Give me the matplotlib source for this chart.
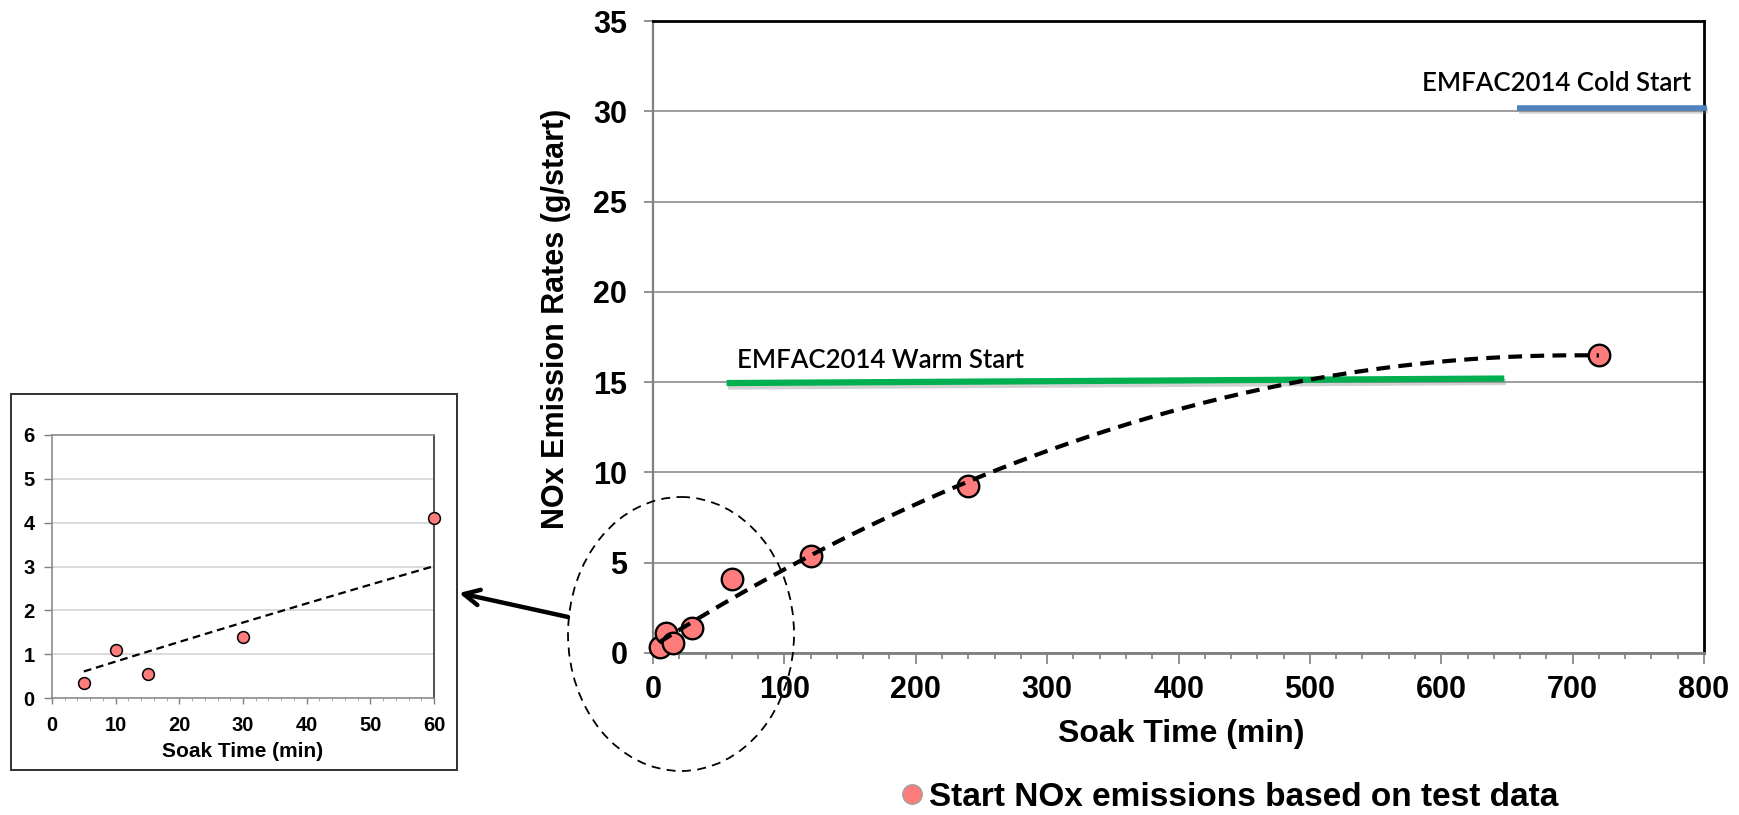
import numpy as np
import matplotlib
matplotlib.use("Agg")
import matplotlib.pyplot as plt
from matplotlib.patches import Ellipse, Rectangle
from matplotlib.lines import Line2D
import matplotlib.patheffects as pe

# ---------------------------------------------------------------------------
# Data
# ---------------------------------------------------------------------------
soak_min = [5, 10, 15, 30, 60, 120, 240, 720]
nox_g = [0.35, 1.1, 0.55, 1.4, 4.1, 5.35, 9.25, 16.5]

warm_x = [56, 648]
warm_y = [14.95, 15.2]
cold_x = [658, 802]
cold_y = [30.2, 30.2]

main_xticks = [0, 100, 200, 300, 400, 500, 600, 700, 800]
main_yticks = [0, 5, 10, 15, 20, 25, 30, 35]
inset_xticks = [0, 10, 20, 30, 40, 50, 60]
inset_yticks = [0, 1, 2, 3, 4, 5, 6]
inset_n = 5  # first five tests shown in the zoomed panel

# 2nd order trendline through the test data (as in the spreadsheet chart)
coef = np.polyfit(soak_min, nox_g, 2)
xt = np.linspace(min(soak_min), max(soak_min), 300)
yt = np.polyval(coef, xt)

FONT = "Liberation Sans"
plt.rcParams["font.family"] = FONT
plt.rcParams["font.weight"] = "bold"

W, H = 1739, 815
fig = plt.figure(figsize=(W / 100, H / 100), dpi=100)

PT_FACE = "#FF7C7C"
GRID = "#8C8C8C"

# ---------------------------------------------------------------------------
# Main chart
# ---------------------------------------------------------------------------
ax = fig.add_axes([653 / W, 1 - 653 / H, (1704 - 653) / W, (653 - 21) / H])
ax.set_xlim(0, 800)
ax.set_ylim(0, 35)
ax.set_xticks(main_xticks)
ax.set_yticks(main_yticks)
ax.set_xticks(np.arange(0, 801, 20), minor=True)
ax.yaxis.grid(True, color=GRID, lw=1.2)
ax.set_axisbelow(True)
ax.tick_params(axis="both", labelsize=22, colors="#7F7F7F", labelcolor="black", width=1.2)
ax.tick_params(axis="x", which="major", length=8, pad=8)
ax.tick_params(axis="x", which="minor", length=4.5, color="#7F7F7F", width=1.2)
ax.tick_params(axis="y", length=6.5, pad=12)
for lab in ax.get_xticklabels() + ax.get_yticklabels():
    lab.set_fontweight("bold")
ax.spines["left"].set_color("#7F7F7F")
ax.spines["bottom"].set_color("#7F7F7F")
ax.spines["left"].set_linewidth(1.6)
ax.spines["bottom"].set_linewidth(2.0)
ax.spines["top"].set_color("black")
ax.spines["right"].set_color("black")
ax.spines["top"].set_linewidth(2.0)
ax.spines["right"].set_linewidth(2.0)

ax.set_ylabel("NOx Emission Rates (g/start)", fontsize=22, fontweight="bold")
ax.yaxis.set_label_coords(-0.078, 0.528)
ax.set_xlabel("Soak Time (min)", fontsize=23, fontweight="bold")
ax.xaxis.set_label_coords(0.503, -0.104)

shadow = [pe.SimpleLineShadow(offset=(1, -2.5), shadow_color="gray", alpha=0.35), pe.Normal()]
ax.plot(warm_x, warm_y, color="#00B050", lw=4.5, solid_capstyle="butt",
        path_effects=shadow, zorder=3)
ax.plot(cold_x, cold_y, color="#4F81BD", lw=4, solid_capstyle="butt",
        path_effects=shadow, zorder=3, clip_on=False)
ax.text(64, 15.8, "EMFAC2014 Warm Start", family="Lato", fontweight="semibold",
        fontsize=18.5, ha="left", va="baseline")
ax.text(790, 31.1, "EMFAC2014 Cold Start", family="Lato", fontweight="semibold",
        fontsize=18.5, ha="right", va="baseline")

ax.plot(soak_min, nox_g, "o", ms=15.5, mfc=PT_FACE, mec="black", mew=1.7, zorder=4,
        clip_on=False)
ax.plot(xt, yt, color="black", lw=3, ls=(0, (3.3, 2)), zorder=5)

handle = Line2D([], [], ls="none", marker="o", ms=14, mfc=PT_FACE, mec="#A0A0A0", mew=1)
fig.legend([handle], ["Start NOx emissions based on test data"], loc="center",
           bbox_to_anchor=(1228 / W, 1 - 797 / H), frameon=False, handletextpad=0.05,
           handlelength=0.9, prop={"family": FONT, "weight": "bold", "size": 24})

# ---------------------------------------------------------------------------
# Zoomed inset (first tests)
# ---------------------------------------------------------------------------
axi = fig.add_axes([52 / W, 1 - 698 / H, (434 - 52) / W, (698 - 435) / H])
axi.set_xlim(0, 60)
axi.set_ylim(0, 6)
axi.set_xticks(inset_xticks)
axi.set_yticks(inset_yticks)
axi.set_xticks(np.arange(0, 61, 2), minor=True)
axi.yaxis.grid(True, color="#D4D4D4", lw=1.2)
axi.set_axisbelow(True)
axi.tick_params(axis="both", labelsize=14.5, colors="#7F7F7F", labelcolor="black", width=1)
axi.tick_params(axis="x", which="major", length=4, pad=9)
axi.tick_params(axis="x", which="minor", length=2.5, color="#9F9F9F")
axi.tick_params(axis="y", length=5.5, pad=7)
for lab in axi.get_xticklabels() + axi.get_yticklabels():
    lab.set_fontweight("bold")
for side in ["left", "bottom", "top"]:
    axi.spines[side].set_color("#8C8C8C")
    axi.spines[side].set_linewidth(1.2)
axi.spines["right"].set_color("#505050")
axi.spines["right"].set_linewidth(1.4)
axi.set_xlabel("Soak Time (min)", fontsize=15, fontweight="bold", labelpad=5)

xi = np.linspace(soak_min[0], soak_min[inset_n - 1], 100)
axi.plot(xi, np.polyval(coef, xi), color="black", lw=1.6, ls=(0, (3.5, 2.2)), zorder=3)
axi.plot(soak_min[:inset_n], nox_g[:inset_n], "o", ms=8.5, mfc=PT_FACE, mec="black",
         mew=1.1, zorder=4, clip_on=False)

# ---------------------------------------------------------------------------
# Overlay: frame of the inset, ellipse and arrow
# ---------------------------------------------------------------------------
ov = fig.add_axes([0, 0, 1, 1], zorder=10)
ov.set_xlim(0, W)
ov.set_ylim(H, 0)
ov.axis("off")
ov.patch.set_alpha(0)
ov.add_patch(Rectangle((11, 394), 446, 376, fill=False, ec="#303030", lw=1.4))
ov.add_patch(Ellipse((681, 634), 226, 274, fill=False, ec="black", lw=1.3,
                     ls=(0, (5, 3.5))))
ov.annotate("", xy=(459, 593), xytext=(568, 617),
            arrowprops=dict(arrowstyle="->", lw=3.2, color="black",
                            mutation_scale=28, shrinkA=0, shrinkB=0))

fig.savefig("out.png", dpi=100)
